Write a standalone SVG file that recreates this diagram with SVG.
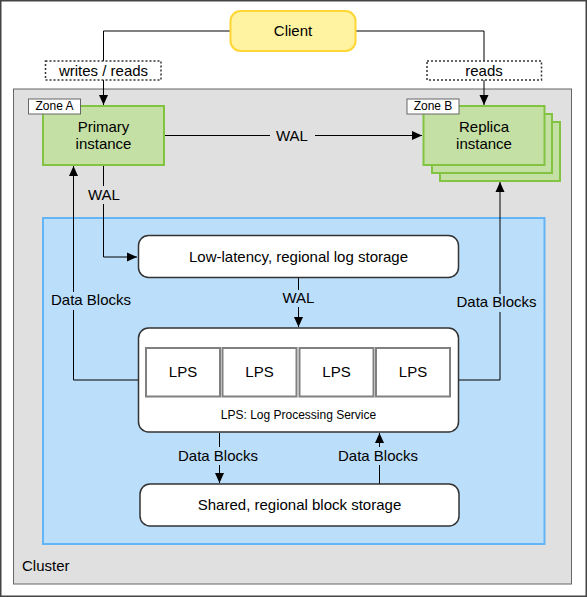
<svg xmlns="http://www.w3.org/2000/svg" width="587" height="597" viewBox="0 0 587 597">
<style>
text{font-family:"Liberation Sans",Arial,sans-serif;fill:#000;text-anchor:middle;dominant-baseline:central;transform:translateY(-1px)}
.t14{font-size:15px}
.t11{font-size:12px}
.store{fill:#fff;stroke:#333;stroke-width:1.5}
.green{fill:#c5e0a5;stroke:#82c341;stroke-width:2}
.zone{fill:#fff;stroke:#666;stroke-width:1}
.lps{fill:#fff;stroke:#808080;stroke-width:2}
.lbl{fill:#fff;stroke:#333;stroke-width:1.5;stroke-dasharray:2 2}
.conn{fill:none;stroke:#000;stroke-width:1}
</style>
<defs>
<marker id="arr" viewBox="0 0 10 10" refX="10" refY="5" markerWidth="10" markerHeight="10" markerUnits="userSpaceOnUse" orient="auto">
<path d="M0,0.5 L10,5 L0,9.5 z" fill="#000"/>
</marker>
</defs>
<rect x="0.75" y="0.75" width="585.5" height="595.5" fill="#fff" stroke="#444" stroke-width="1.5"/>
<g id="cluster">
<rect x="13.5" y="89" width="558" height="495" fill="#e0e0e0" stroke="#666" stroke-width="1"/>
<text x="22" y="566" class="t14" style="text-anchor:start">Cluster</text>
</g>
<g id="region">
<rect x="43" y="218" width="501.5" height="326" fill="#bbdefb" stroke="#64b5f6" stroke-width="2"/>
</g>
<g id="connectors">
<path class="conn" d="M230,31 H103.5 V105" marker-end="url(#arr)"/>
<path class="conn" d="M355,31 H484 V105" marker-end="url(#arr)"/>
<rect class="lbl" x="45.5" y="61" width="115.5" height="19"/>
<text x="103.5" y="71" class="t14">writes / reads</text>
<rect class="lbl" x="427" y="61" width="114.5" height="19"/>
<text x="484" y="71" class="t14">reads</text>
<path class="conn" d="M164,135.5 H422" marker-end="url(#arr)"/>
<rect x="270" y="127" width="45" height="18" fill="#e0e0e0"/>
<text x="292" y="136" class="t14">WAL</text>
<path class="conn" d="M103.5,165 V257 H137" marker-end="url(#arr)"/>
<rect x="84" y="186" width="40" height="18" fill="#e0e0e0"/>
<text x="104" y="195" class="t14">WAL</text>
<path class="conn" d="M298.5,278 V327" marker-end="url(#arr)"/>
<rect x="279" y="290" width="40" height="17" fill="#bbdefb"/>
<text x="298.5" y="298.5" class="t14">WAL</text>
<path class="conn" d="M138,380 H73.5 V166" marker-end="url(#arr)"/>
<rect x="50" y="292" width="83" height="18" fill="#bbdefb"/>
<text x="91" y="300.5" class="t14">Data Blocks</text>
<path class="conn" d="M459,380 H500 V182" marker-end="url(#arr)"/>
<rect x="455" y="294" width="83" height="18" fill="#bbdefb"/>
<text x="496.5" y="302.5" class="t14">Data Blocks</text>
<path class="conn" d="M219.5,433 V483" marker-end="url(#arr)"/>
<rect x="177" y="447" width="83" height="18" fill="#bbdefb"/>
<text x="218" y="456" class="t14">Data Blocks</text>
<path class="conn" d="M379.5,484 V433" marker-end="url(#arr)"/>
<rect x="336" y="447" width="83" height="18" fill="#bbdefb"/>
<text x="378" y="456" class="t14">Data Blocks</text>
</g>
<g id="client">
<rect x="230.5" y="11" width="125" height="40" rx="10" fill="#fff2a0" stroke="#ffd633" stroke-width="2"/>
<text x="293" y="31" class="t14">Client</text>
</g>
<g id="primary">
<rect class="green" x="43" y="106" width="121" height="59"/>
<text x="103.5" y="127.5" class="t14">Primary</text>
<text x="103.5" y="144.5" class="t14">instance</text>
<rect class="zone" x="28.5" y="99" width="52" height="15"/>
<text x="54.5" y="106.5" class="t11">Zone A</text>
</g>
<g id="replica">
<rect class="green" x="440" y="122" width="120" height="59"/>
<rect class="green" x="432" y="114" width="120" height="59"/>
<rect class="green" x="423.5" y="106" width="121" height="59"/>
<text x="484" y="127.5" class="t14">Replica</text>
<text x="484" y="144.5" class="t14">instance</text>
<rect class="zone" x="407" y="99" width="52" height="15"/>
<text x="433" y="106.5" class="t11">Zone B</text>
</g>
<g id="log-storage">
<rect class="store" x="138.5" y="235.5" width="320" height="42" rx="10"/>
<text x="298.5" y="257" class="t14">Low-latency, regional log storage</text>
</g>
<g id="lps-service">
<rect class="store" x="138.5" y="328" width="320" height="104" rx="10"/>
<rect class="lps" x="146" y="348" width="74" height="48.5"/>
<text x="183" y="372" class="t14">LPS</text>
<rect class="lps" x="222.5" y="348" width="74" height="48.5"/>
<text x="259.5" y="372" class="t14">LPS</text>
<rect class="lps" x="299.5" y="348" width="74" height="48.5"/>
<text x="336.5" y="372" class="t14">LPS</text>
<rect class="lps" x="376" y="348" width="74" height="48.5"/>
<text x="413" y="372" class="t14">LPS</text>
<text x="298.5" y="416" class="t11">LPS: Log Processing Service</text>
</g>
<g id="block-storage">
<rect class="store" x="140" y="484" width="319" height="42" rx="10"/>
<text x="299.5" y="505" class="t14">Shared, regional block storage</text>
</g>
</svg>
